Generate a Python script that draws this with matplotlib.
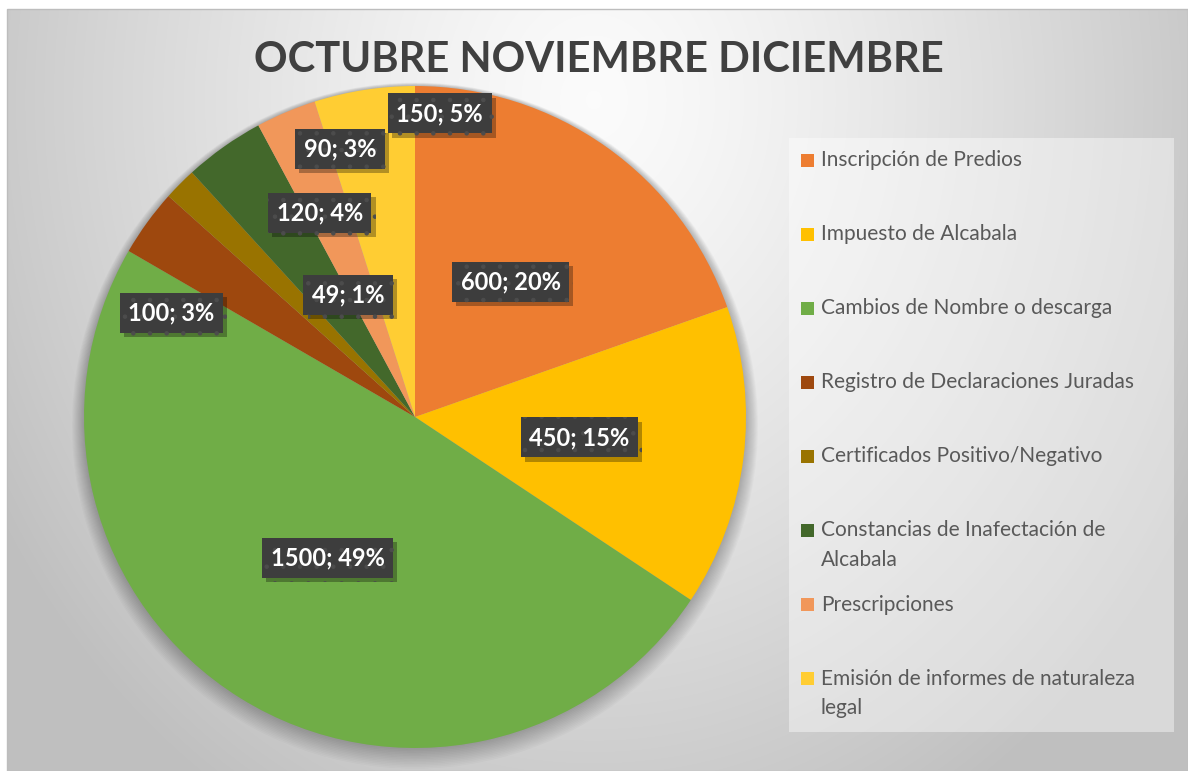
import numpy as np
import matplotlib
matplotlib.use("Agg")
import matplotlib.pyplot as plt
from matplotlib.patches import Rectangle, Circle
import matplotlib.patheffects as pe

plt.rcParams["hatch.linewidth"] = 0.8

# ---------------- data ----------------
categories = [
    "Inscripción de Predios",
    "Impuesto de Alcabala",
    "Cambios de Nombre o descarga",
    "Registro de Declaraciones Juradas",
    "Certificados Positivo/Negativo",
    "Constancias de Inafectación de\nAlcabala",
    "Prescripciones",
    "Emisión de informes de naturaleza\nlegal",
]
values = [600, 450, 1500, 100, 49, 120, 90, 150]
pct_labels = ["20%", "15%", "49%", "3%", "1%", "4%", "3%", "5%"]
title = "OCTUBRE NOVIEMBRE DICIEMBRE"

# ---------------- style ----------------
colors = ["#ED7D31", "#FFC000", "#70AD47", "#9E480E",
          "#997300", "#43682B", "#F1975A", "#FFCD33"]
# label placement (radius fraction, angular nudge in degrees)
label_r = [0.50, 0.50, 0.50, 0.80, 0.42, 0.68, 0.84, 0.92]
label_shift = [0, 0, 0, 12.8, -16.5, -10.3, -7.3, -13.5]
FONT = ["Lato", "DejaVu Sans"]

W, H = 1188, 771
fig = plt.figure(figsize=(W / 100, H / 100), dpi=100)
fig.patch.set_facecolor("white")

# background axes in pixel coordinates
ax_bg = fig.add_axes([0, 0, 1, 1])
ax_bg.set_xlim(0, W)
ax_bg.set_ylim(H, 0)
ax_bg.axis("off")

x0, y0 = 7, 9
xs = np.arange(x0, W) + 0.5
ys = np.arange(y0, H) + 0.5
XX, YY = np.meshgrid(xs, ys)
d = np.sqrt(((XX - 594) / 590.0) ** 2 + ((YY - 100) / 700.0) ** 2)
g = np.clip(0.985 - 0.19 * d ** 1.3, 0.75, 1.0)
img = np.dstack([g, g, g])
ax_bg.imshow(img, extent=(x0, W, H, y0), interpolation="bilinear", zorder=0)
ax_bg.add_patch(Rectangle((x0, y0), W - x0, H - y0, fill=False,
                          edgecolor="#bdbdbd", linewidth=1.0, zorder=1))

# title
ax_bg.text(599, 60, title, ha="center", va="center", fontsize=30,
           fontweight="bold", color="#404040", family=FONT, zorder=2)

# legend box
ax_bg.add_patch(Rectangle((789, 138), 385, 594, facecolor="white", alpha=0.42,
                          edgecolor="none", zorder=2))
leg_y0, leg_step, line_gap = 160, 74.1, 29
for i, (cat, col) in enumerate(zip(categories, colors)):
    yc = leg_y0 + i * leg_step
    ax_bg.add_patch(Rectangle((801, yc - 6.5), 13, 13, facecolor=col,
                              edgecolor="none", zorder=3))
    for j, line in enumerate(cat.split("\n")):
        ax_bg.text(821, yc + j * line_gap, line, ha="left", va="center",
                   fontsize=15, color="#595959", family=FONT, zorder=3)

# pie axes
cx, cy, R = 415, 417, 331
ax = fig.add_axes([(cx - R) / W, (H - cy - R) / H, 2 * R / W, 2 * R / H])
ax.patch.set_alpha(0)
wedges, _ = ax.pie(values, colors=colors, startangle=90, counterclock=False,
                   radius=1.0, wedgeprops=dict(linewidth=0, edgecolor="none"))
for w in wedges:
    w.set_zorder(2)
    w.set_clip_on(False)
ax.set_xlim(-1, 1)
ax.set_ylim(-1, 1)
ax.set_aspect("equal")
ax.axis("off")

# soft shadow around pie
for k in range(14):
    c = Circle((0, 0.0 - 0.002 * k), 1.0 + 0.0028 * k,
               facecolor="black", alpha=0.018, edgecolor="none", zorder=1)
    c.set_clip_on(False)
    ax.add_patch(c)

# data labels
for w, v, p, r, s in zip(wedges, values, pct_labels, label_r, label_shift):
    ang = np.deg2rad((w.theta1 + w.theta2) / 2 + s)
    lx, ly = r * np.cos(ang), r * np.sin(ang)
    txt = f"{v}; {p}"
    t = ax.text(lx, ly, txt, ha="center", va="center", fontsize=17,
                fontweight="bold", color="white", family=FONT, zorder=5,
                bbox=dict(boxstyle="square,pad=0.36", facecolor="#3d3d3d",
                          edgecolor="#4c4c4c", linewidth=0, hatch="."))
    t.get_bbox_patch().set_path_effects(
        [pe.SimplePatchShadow(offset=(3, -3), shadow_rgbFace="black",
                              alpha=0.3), pe.Normal()])

fig.savefig("out.png", dpi=100, facecolor=fig.get_facecolor())
